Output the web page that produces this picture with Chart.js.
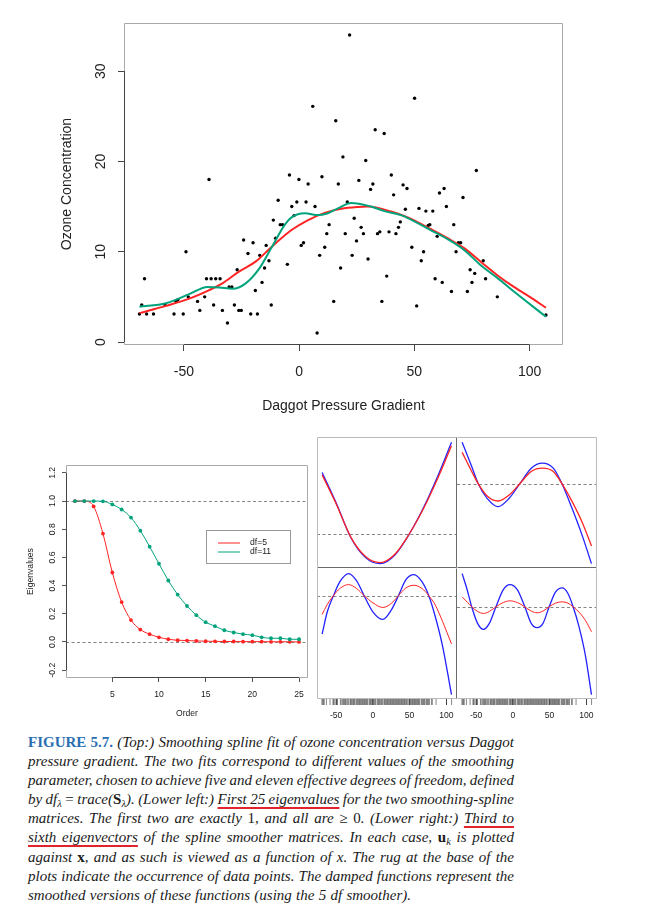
<!DOCTYPE html>
<html>
<head>
<meta charset="utf-8">
<script src="https://cdn.jsdelivr.net/npm/chart.js@4.4.0/dist/chart.umd.min.js"></script>
<style>
body { margin:0; background:#fff; width:649px; height:915px; position:relative; overflow:hidden; }
canvas { position:absolute; }
#caption { position:absolute; left:28px; top:733px; width:486px; font-family:"Liberation Serif", serif; font-size:15px; line-height:19.1px; font-style:italic; color:#1a1a1a; }
.ln { white-space:nowrap; height:19.1px; }
.fig { color:#2a6fb2; font-style:normal; font-weight:bold; }
.ul { text-decoration:underline; text-decoration-color:#e3232b; text-decoration-thickness:1.5px; text-underline-offset:3px; }
.up { font-style:normal; }
b { font-style:normal; }
sub { font-size:70%; vertical-align:-3px; line-height:0; }
</style>
</head>
<body>
<canvas id="top" width="649" height="420" style="left:0;top:0"></canvas>
<canvas id="eig" width="316" height="290" style="left:0;top:440px"></canvas>
<canvas id="v3" width="148" height="139" style="left:313px;top:433px"></canvas>
<canvas id="v4" width="148" height="139" style="left:453px;top:433px"></canvas>
<canvas id="v5" width="148" height="165" style="left:313px;top:564px"></canvas>
<canvas id="v6" width="148" height="165" style="left:453px;top:564px"></canvas>

<div id="caption">
<div class="ln" data-w="486"><span><span class="fig">FIGURE 5.7.</span> (Top:) Smoothing spline fit of ozone concentration versus Daggot</span></div>
<div class="ln" data-w="486"><span>pressure gradient. The two fits correspond to different values of the smoothing</span></div>
<div class="ln" data-w="486"><span>parameter, chosen to achieve five and eleven effective degrees of freedom, defined</span></div>
<div class="ln" data-w="486"><span>by df<sub>λ</sub> <span class="up">=</span> trace(<b>S</b><sub>λ</sub>). (Lower left:) <span class="ul">First 25 eigenvalues</span> for the two smoothing-spline</span></div>
<div class="ln" data-w="486"><span>matrices. The first two are exactly <span class="up">1</span>, and all are <span class="up">≥ 0</span>. (Lower right:) <span class="ul">Third to</span></span></div>
<div class="ln" data-w="486"><span><span class="ul">sixth eigenvectors</span> of the spline smoother matrices. In each case, <b>u</b><sub>k</sub> is plotted</span></div>
<div class="ln" data-w="486"><span>against <b>x</b>, and as such is viewed as a function of x. The rug at the base of the</span></div>
<div class="ln" data-w="486"><span>plots indicate the occurrence of data points. The damped functions represent the</span></div>
<div class="ln" data-w="383"><span>smoothed versions of these functions (using the 5 df smoother).</span></div>
</div>

<script>
// ozone vs daggot pressure gradient
const ozoneX = [-69.3,-68.3,-67.1,-66.2,-63.2,-58.2,-54.3,-53.4,-52.6,-50.3,-49.1,-48.1,-44.1,-43.1,-41.0,-40.2,-38.2,-36.2,-34.3,-39.1,
  -37.1,-33.3,-31.1,-30.4,-29.2,-28.1,-26.9,-26.2,-25.1,-24.1,-22.2,-21.0,-20.0,-19.0,-18.1,-17.1,-16.1,-15.0,-14.3,-13.1,
  -12.1,-11.2,-10.2,-9.1,-8.2,-7.2,-5.1,-4.2,-3.2,-2.2,-1.0,-0.1,0.9,1.9,3.0,3.9,5.9,6.9,7.8,8.9,
  9.9,11.1,12.0,13.0,15.0,15.9,17.0,18.0,19.0,20.0,20.9,21.9,23.0,23.9,24.9,25.9,26.9,27.9,28.9,29.9,
  31.0,32.0,33.0,34.0,35.0,35.9,36.9,38.0,39.0,40.0,41.0,42.0,43.1,43.9,45.1,46.1,46.8,48.9,50.1,51.0,
  52.0,53.0,54.0,55.0,56.0,56.7,58.0,59.0,59.9,60.9,62.1,62.9,63.9,66.1,67.1,68.1,69.1,70.1,71.1,73.0,
  74.2,75.0,76.2,76.9,79.9,80.9,86.0,107.1];
const ozoneY = [3.1,4.1,7.0,3.1,3.1,4.1,3.1,4.5,4.7,3.1,10.0,5.0,4.5,3.5,5.0,7.0,7.0,7.0,7.0,18.0,
  4.1,3.5,2.1,6.1,6.1,4.1,8.0,3.5,3.5,11.3,9.8,3.1,11.0,5.7,3.1,9.6,6.6,8.2,10.7,9.0,
  4.1,13.5,11.5,15.7,13.0,13.0,8.6,18.5,15.0,14.0,15.5,18.0,10.7,11.0,15.5,17.5,26.1,15.0,1.0,9.6,
  18.3,10.5,12.0,13.0,4.5,24.5,17.5,8.2,20.5,12.0,15.5,34.0,9.6,13.7,11.2,17.9,12.7,12.0,20.1,9.2,
  16.9,17.5,23.5,12.0,12.2,4.5,23.1,7.3,12.2,18.5,16.3,12.0,12.7,13.3,17.4,14.7,17.0,10.5,27.0,4.0,
  14.8,9.0,10.0,14.5,12.9,13.0,14.5,7.0,11.7,16.5,6.6,17.0,15.0,5.6,13.0,10.0,11.0,11.0,16.0,5.6,
  8.0,6.6,7.6,19.0,9.0,7.0,5.0,3.0];

// smoothing spline fits
const fit5X = [-69.3,-57.8,-47.7,-39,-33.3,-26.1,-18.9,-12.1,-3.3,3.9,11.1,18.3,25.5,29.8,39.9,47.1,57.2,64.4,71.6,78.8,86,93.2,100.4,107.1];
const fit5Y = [3.2,4.0,4.8,5.75,6.5,7.8,8.9,10.5,12.4,13.5,14.3,14.75,14.95,15.0,14.45,13.8,12.5,11.5,10.4,8.9,7.4,6.1,4.95,3.8];
const fit11X = [-69.3,-57.8,-47.7,-39.7,-34.7,-28.9,-23.2,-17.4,-12.1,-6.2,-3.3,2.5,8.2,11.8,16.8,22.6,31.2,37,44.2,57,64.4,71.6,78.8,86,93.2,107.1];
const fit11Y = [3.9,4.3,5.3,6.1,6.05,5.9,6.5,8.1,10.4,13.0,13.8,14.25,14.06,14.2,14.8,15.4,15.0,14.5,14.06,12.4,11.4,10.2,8.5,7.1,5.6,2.8];
const topXTicks = [-50, 0, 50, 100];
const topYTicks = [0, 10, 20, 30];

// eigenvalues
const eigOrder = [1,2,3,4,5,6,7,8,9,10,11,12,13,14,15,16,17,18,19,20,21,22,23,24,25];
const eigDf5 = [1.0,1.0,0.962,0.769,0.493,0.283,0.155,0.088,0.055,0.033,0.019,0.012,0.010,0.007,0.005,0.004,0.003,0.003,0.002,0.002,0.002,0.001,0.001,0.001,0.0];
const eigDf11 = [1.0,1.0,1.0,0.998,0.976,0.94,0.883,0.79,0.676,0.555,0.436,0.336,0.255,0.19,0.14,0.112,0.083,0.067,0.055,0.048,0.033,0.026,0.026,0.019,0.019];
const eigXTicks = [5, 10, 15, 20, 25];
const eigYTicks = [-0.2, 0, 0.2, 0.4, 0.6, 0.8, 1.0, 1.2];
const eigRefLines = [0, 1];

// eigenvectors 3..6 (raw = blue, smoothed by 5 df = red)
const vecXTicks = [-50, 0, 50, 100];
const e3X = [-69,-50,-30,-10,10,30,50,70,90,107];
const e3Raw = [0.185,0.095,-0.009,-0.069,-0.087,-0.061,0.003,0.085,0.183,0.275];
const e3Smooth = [0.178,0.092,-0.008,-0.066,-0.084,-0.059,0.003,0.082,0.176,0.265];
const e4X = [-69,-56,-47,-35,-20,-5,10,25,40,55,67,80,95,107];
const e4Raw = [0.124,0.052,0.0,-0.043,-0.068,-0.043,0.002,0.047,0.062,0.047,0.0,-0.070,-0.158,-0.238];
const e4Smooth = [0.094,0.037,0.0,-0.036,-0.051,-0.033,0.002,0.037,0.047,0.037,0.0,-0.050,-0.118,-0.185];
const e5X = [-69,-62,-53.5,-45,-33,-22,-12,0,13.6,25,35,45,56,67,76,85,95,107];
const e5Raw = [-0.116,-0.049,0,0.041,0.066,0.044,0,-0.049,-0.072,-0.044,0,0.048,0.063,0.041,0,-0.064,-0.154,-0.299];
const e5Smooth = [-0.057,-0.027,0,0.021,0.033,0.021,0,-0.022,-0.036,-0.024,0,0.023,0.031,0.021,0,-0.029,-0.079,-0.146];
const e6X = [-69,-62,-56,-48,-40,-32,-23,-13,-4,6,16.3,25,33,41,49.4,58,67,75,82,90,99,107];
const e6Raw = [0.100,0.050,0,-0.050,-0.068,-0.050,0,0.052,0.067,0.052,0,-0.050,-0.063,-0.050,0,0.044,0.057,0.040,0,-0.060,-0.150,-0.265];
const e6Smooth = [0.030,0.014,0,-0.014,-0.020,-0.014,0,0.013,0.018,0.013,0,-0.013,-0.018,-0.013,0,0.011,0.015,0.011,0,-0.016,-0.042,-0.075];

const FONT = 'Liberation Sans, Arial, sans-serif';
const RED = '#ff2424', GREEN = '#00a37c', BLUE = '#2222ff';
Chart.defaults.font.family = FONT;
Chart.defaults.color = '#222';

const pts = (xs, ys) => xs.map((x, i) => ({x, y: ys[i]}));
const fixTicks = vals => s => { s.ticks = vals.map(v => ({value: v})); };

// box around the plot region + R-like axis segment between first and last tick
const frame = {
  id: 'frame',
  afterDatasetsDraw(chart, args, o) {
    const {ctx, chartArea: a} = chart;
    const l = Math.round(a.left) + 0.5, t = Math.round(a.top) + 0.5;
    const r = Math.round(a.right) - 0.5, b = Math.round(a.bottom) - 0.5;
    const edges = {top: [l, t, r, t], bottom: [l, b, r, b], left: [l, t, l, b], right: [r, t, r, b]};
    ctx.save();
    ctx.lineWidth = 1;
    for (const k in edges) {
      if ((o.skip || []).includes(k)) continue;
      const e = edges[k];
      ctx.strokeStyle = (o.dark || []).includes(k) ? '#6a6a6a' : (o.color || '#999');
      ctx.beginPath(); ctx.moveTo(e[0], e[1]); ctx.lineTo(e[2], e[3]); ctx.stroke();
    }
    if (o.axes) {
      ctx.strokeStyle = '#444';
      const xs = chart.scales.x, ys = chart.scales.y;
      ctx.beginPath();
      ctx.moveTo(xs.getPixelForValue(xs.ticks[0].value), b);
      ctx.lineTo(xs.getPixelForValue(xs.ticks[xs.ticks.length - 1].value), b);
      ctx.moveTo(l, ys.getPixelForValue(ys.ticks[0].value));
      ctx.lineTo(l, ys.getPixelForValue(ys.ticks[ys.ticks.length - 1].value));
      ctx.stroke();
    }
    ctx.restore();
  }
};

// dashed horizontal reference lines
const refLines = {
  id: 'refLines',
  beforeDatasetsDraw(chart, args, o) {
    if (!o.values) return;
    const {ctx, chartArea: a} = chart;
    ctx.save();
    ctx.strokeStyle = '#666'; ctx.lineWidth = 0.8; ctx.setLineDash([3, 2.5]);
    o.values.forEach(v => {
      const y = Math.round(chart.scales.y.getPixelForValue(v)) + 0.5;
      ctx.beginPath(); ctx.moveTo(a.left, y); ctx.lineTo(a.right, y); ctx.stroke();
    });
    ctx.restore();
  }
};

// rug of data x positions under the plot
const rug = {
  id: 'rug',
  afterDatasetsDraw(chart, args, o) {
    if (!o.xs) return;
    const {ctx, chartArea: a} = chart;
    ctx.save();
    ctx.strokeStyle = '#555'; ctx.lineWidth = 0.7;
    o.xs.forEach(x => {
      const px = chart.scales.x.getPixelForValue(x);
      ctx.beginPath(); ctx.moveTo(px, a.bottom); ctx.lineTo(px, a.bottom + 6); ctx.stroke();
    });
    ctx.restore();
  }
};

// boxed legend for the eigenvalue plot
const legendBox = {
  id: 'legendBox',
  afterDraw(chart, args, o) {
    if (!o.box) return;
    const {ctx} = chart;
    const [x0, y0, x1, y1] = o.box;
    ctx.save();
    ctx.strokeStyle = '#999'; ctx.lineWidth = 1;
    ctx.strokeRect(x0 + 0.5, y0 + 0.5, x1 - x0, y1 - y0);
    ctx.font = '8.6px ' + FONT; ctx.fillStyle = '#222'; ctx.textBaseline = 'middle';
    o.order.forEach((di, i) => {
      const ds = chart.data.datasets[di];
      const y = y0 + 13 + i * 9;
      ctx.strokeStyle = ds.borderColor; ctx.lineWidth = 1;
      ctx.beginPath(); ctx.moveTo(x0 + 12, y); ctx.lineTo(x0 + 34, y); ctx.stroke();
      ctx.fillText(ds.label, x0 + 44, y);
    });
    ctx.restore();
  }
};

const plugins = [refLines, frame, rug, legendBox];

// ---------- top: scatter + two smoothing splines ----------
new Chart(document.getElementById('top'), {
  type: 'scatter',
  data: {
    datasets: [
      {label: 'df=11', data: pts(fit11X, fit11Y), showLine: true, borderColor: GREEN, borderWidth: 2,
       pointRadius: 0, cubicInterpolationMode: 'monotone'},
      {label: 'df=5', data: pts(fit5X, fit5Y), showLine: true, borderColor: RED, borderWidth: 2,
       pointRadius: 0, cubicInterpolationMode: 'monotone'},
      {label: 'ozone', data: pts(ozoneX, ozoneY), pointRadius: 1.7, pointBackgroundColor: '#000',
       pointBorderWidth: 0}
    ]
  },
  options: {
    responsive: false, animation: false, devicePixelRatio: 1,
    layout: {padding: {left: 0, top: 23, right: 86, bottom: 0}},
    plugins: {legend: {display: false}, tooltip: {enabled: false}, frame: {axes: true, color: '#aaa'}},
    scales: {
      x: {type: 'linear', min: -76, max: 114.5, afterBuildTicks: fixTicks(topXTicks), afterFit: s => { s.height = 75; },
          grid: {drawOnChartArea: false, tickLength: 6, tickColor: '#444'}, border: {display: false},
          ticks: {font: {size: 14}, color: '#222', padding: 13, maxRotation: 0, autoSkip: false},
          title: {display: true, text: 'Daggot Pressure Gradient', font: {size: 14}, color: '#222', padding: {top: 0, bottom: 5.6}}},
      y: {type: 'linear', min: -0.33, max: 35.33, afterBuildTicks: fixTicks(topYTicks), afterFit: s => { s.width = 124; },
          grid: {drawOnChartArea: false, tickLength: 6, tickColor: '#444'}, border: {display: false},
          ticks: {font: {size: 14}, color: '#222', padding: 9.5, minRotation: 90, maxRotation: 90, crossAlign: 'center', autoSkip: false},
          title: {display: true, text: 'Ozone Concentration', font: {size: 14}, color: '#222', padding: {top: 58.3, bottom: 0}}}
    }
  },
  plugins
});

// ---------- lower left: eigenvalues ----------
new Chart(document.getElementById('eig'), {
  type: 'scatter',
  data: {
    datasets: [
      {label: 'df=11', data: pts(eigOrder, eigDf11), showLine: true, borderColor: GREEN, borderWidth: 1,
       pointRadius: 1.9, pointBackgroundColor: GREEN, pointBorderWidth: 0, cubicInterpolationMode: 'monotone'},
      {label: 'df=5', data: pts(eigOrder, eigDf5), showLine: true, borderColor: RED, borderWidth: 1,
       pointRadius: 1.9, pointBackgroundColor: RED, pointBorderWidth: 0, cubicInterpolationMode: 'monotone'}
    ]
  },
  options: {
    responsive: false, animation: false, devicePixelRatio: 1,
    layout: {padding: {left: 0, top: 25, right: 8, bottom: 0}},
    plugins: {legend: {display: false}, tooltip: {enabled: false},
      frame: {axes: true, color: '#aaa'}, refLines: {values: eigRefLines},
      legendBox: {box: [206, 90, 290, 123], order: [1, 0]}},
    scales: {
      x: {type: 'linear', min: 0.04, max: 25.96, afterBuildTicks: fixTicks(eigXTicks), afterFit: s => { s.height = 52; },
          grid: {drawOnChartArea: false, tickLength: 4, tickColor: '#555'}, border: {display: false},
          ticks: {font: {size: 8.6}, color: '#222', padding: 7.2, maxRotation: 0, autoSkip: false},
          title: {display: true, text: 'Order', font: {size: 8.6}, color: '#222', padding: {top: 0, bottom: 11.2}}},
      y: {type: 'linear', min: -0.256, max: 1.256, afterBuildTicks: fixTicks(eigYTicks), afterFit: s => { s.width = 66; },
          grid: {drawOnChartArea: false, tickLength: 4, tickColor: '#555'}, border: {display: false},
          ticks: {font: {size: 8.6}, color: '#222', padding: 2.4, minRotation: 90, maxRotation: 90, crossAlign: 'center',
                  autoSkip: false, callback: v => v.toFixed(1)},
          title: {display: true, text: 'Eigenvalues', font: {size: 8.6}, color: '#222', padding: {top: 25.9, bottom: 0}}}
    }
  },
  plugins
});

// ---------- lower right: eigenvectors ----------
function vecPanel(id, xs, raw, smooth, yMin, yMax, bottomRow, dark, skip) {
  new Chart(document.getElementById(id), {
    type: 'scatter',
    data: {
      datasets: [
        {data: pts(xs, smooth), showLine: true, borderColor: RED, borderWidth: bottomRow ? 1 : 1.3,
         pointRadius: 0, cubicInterpolationMode: 'monotone'},
        {data: pts(xs, raw), showLine: true, borderColor: BLUE, borderWidth: 1.3,
         pointRadius: 0, cubicInterpolationMode: 'monotone'}
      ]
    },
    options: {
      responsive: false, animation: false, devicePixelRatio: 1,
      layout: {padding: {left: 4, top: 4, right: 4, bottom: bottomRow ? 0 : 4}},
      plugins: {legend: {display: false}, tooltip: {enabled: false},
        frame: {color: '#bbb', dark, skip}, refLines: {values: [0]}, rug: bottomRow ? {xs: ozoneX} : false},
      scales: {
        x: {type: 'linear', min: -76, max: 114.5, display: bottomRow, afterBuildTicks: fixTicks(vecXTicks),
            afterFit: s => { s.height = bottomRow ? 30 : 0; },
            grid: {drawOnChartArea: false, tickLength: 6, tickColor: '#444'}, border: {display: false},
            ticks: {font: {size: 8.6}, color: '#222', padding: 5.7, maxRotation: 0, autoSkip: false}},
        y: {type: 'linear', min: yMin, max: yMax, display: false, afterFit: s => { s.width = 0; }}
      }
    },
    plugins
  });
}
vecPanel('v3', e3X, e3Raw, e3Smooth, -0.100, 0.291, false, ['right', 'bottom'], []);
vecPanel('v4', e4X, e4Raw, e4Smooth, -0.251, 0.140, false, ['bottom'], ['left']);
vecPanel('v5', e5X, e5Raw, e5Smooth, -0.312, 0.083, true, ['right'], ['top']);
vecPanel('v6', e6X, e6Raw, e6Smooth, -0.278, 0.117, true, [], ['top', 'left']);

// ---------- caption: stretch each line to the measured width ----------
function fitCaption() {
  document.querySelectorAll('#caption .ln').forEach(el => {
    el.style.wordSpacing = '0px';
    const span = el.firstElementChild;
    const w = span.getBoundingClientRect().width;
    const spaces = (span.textContent.match(/ /g) || []).length;
    if (spaces) el.style.wordSpacing = ((+el.dataset.w - w) / spaces) + 'px';
  });
}
fitCaption();
if (document.fonts) document.fonts.ready.then(fitCaption);
</script>
</body>
</html>
